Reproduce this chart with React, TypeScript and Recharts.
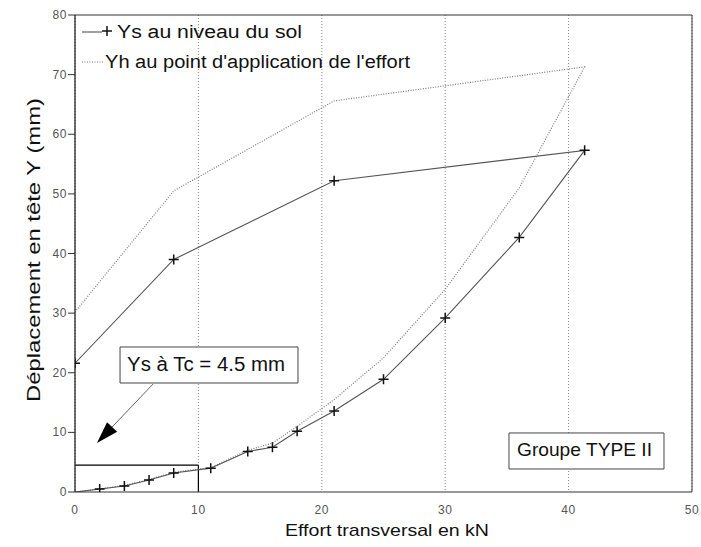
import React from 'react';
import {
  LineChart,
  Line,
  XAxis,
  YAxis,
  CartesianGrid,
  ReferenceLine,
  ReferenceArea,
  Legend,
} from 'recharts';

// Effort transversal (kN) / déplacement (mm) — chargement puis déchargement
const effortYs = [0, 2, 4, 6, 8, 11, 14, 16, 18, 21, 25, 30, 36, 41.3, 21, 8, 0];
const deplYs = [0, 0.5, 1, 2, 3.2, 4, 6.8, 7.5, 10.2, 13.6, 18.9, 29.2, 42.7, 57.3, 52.2, 39, 21.6];

const effortYh = [0, 2, 4, 6, 8, 11, 14, 16, 18, 21, 25, 30, 36, 41.3, 21, 8, 0];
const deplYh = [0, 0.5, 1.1, 2.1, 3.3, 4.1, 7, 8.2, 11, 15.5, 22.5, 34, 51, 71.3, 65.6, 50.5, 30.2];

const xTicks = [0, 10, 20, 30, 40, 50];
const yTicks = [0, 10, 20, 30, 40, 50, 60, 70, 80];

const seriesNames = ['Ys au niveau du sol', "Yh au point d'application de l'effort"];

// Point de Tc : effort et déplacement Ys correspondant
const tcEffort = 10;
const tcDepl = 4.5;
const tcText = 'Ys à Tc = 4.5 mm';
const groupText = 'Groupe TYPE II';

// Emplacement des cartouches, en unités du graphique
const tcBox = { x1: 3.65, x2: 18.07, y1: 18.28, y2: 24.32 };
const tcArrow = { from: { x: 6.32, y: 18.1 }, to: { x: 1.78, y: 8.22 } };
const groupBox = { x1: 35.17, x2: 47.73, y1: 3.86, y2: 9.9 };

const FONT = '"Liberation Sans", Arial, Helvetica, sans-serif';

const ysData = effortYs.map((x, i) => ({ x, y: deplYs[i] }));
const yhData = effortYh.map((x, i) => ({ x, y: deplYh[i] }));

const Plus = ({ cx, cy }: { cx: number; cy: number }) => (
  <path
    d={`M${cx - 5},${cy}H${cx + 5}M${cx},${cy - 5}V${cy + 5}`}
    stroke="#111"
    strokeWidth={1.5}
    fill="none"
  />
);

const PlusDot = (props: any) => {
  const { cx, cy, index } = props;
  if (index === 0 || cx == null || cy == null) return <g key={`p${index}`} />;
  return (
    <g key={`p${index}`}>
      <Plus cx={cx} cy={cy} />
    </g>
  );
};

const YTick = (props: any) => {
  const { x, y, payload } = props;
  return (
    <text x={x + 1} y={y + 4} textAnchor="end" fontSize={12} fill="#555" fontFamily={FONT} letterSpacing={0.6}>
      {payload.value}
    </text>
  );
};

const XTick = (props: any) => {
  const { x, y, payload } = props;
  return (
    <text x={x} y={y + 22} textAnchor="middle" fontSize={12} fill="#555" fontFamily={FONT} letterSpacing={0.6}>
      {payload.value}
    </text>
  );
};

const LegendBox = () => (
  <svg width={701} height={80} style={{ display: 'block', overflow: 'visible' }}>
    <line x1={82} y1={32} x2={102} y2={32} stroke="#555" strokeWidth={1.1} />
    <Plus cx={107} cy={31} />
    <text x={117} y={38} fontSize={18} fill="#111" fontFamily={FONT} textLength={185} lengthAdjust="spacingAndGlyphs">
      {seriesNames[0]}
    </text>
    <line x1={82} y1={62} x2={104} y2={62} stroke="#777" strokeWidth={1.2} strokeDasharray="1 1.5" />
    <text x={105} y={68} fontSize={18} fill="#111" fontFamily={FONT} textLength={305} lengthAdjust="spacingAndGlyphs">
      {seriesNames[1]}
    </text>
  </svg>
);

const boxLabel = (text: string, fontSize: number, padX: number, length: number, base: number) => (props: any) => {
  const vb = props.viewBox || {};
  return (
    <text
      x={vb.x + padX}
      y={vb.y + base}
      fontSize={fontSize}
      fill="#111"
      fontFamily={FONT}
      textLength={length}
      lengthAdjust="spacingAndGlyphs"
    >
      {text}
    </text>
  );
};

const ArrowShape = (props: any) => {
  const { x1, y1, x2, y2 } = props;
  if ([x1, y1, x2, y2].some((v) => v == null || Number.isNaN(v))) return <g />;
  const dx = x2 - x1;
  const dy = y2 - y1;
  const len = Math.sqrt(dx * dx + dy * dy);
  const ux = dx / len;
  const uy = dy / len;
  const headLen = 22;
  const half = 7;
  const bx = x2 - ux * headLen;
  const by = y2 - uy * headLen;
  const px = -uy;
  const py = ux;
  return (
    <g>
      <line x1={x1} y1={y1} x2={bx} y2={by} stroke="#666" strokeWidth={1} />
      <polygon
        points={`${x2},${y2} ${bx + px * half},${by + py * half} ${bx - px * half},${by - py * half}`}
        fill="#000"
      />
    </g>
  );
};

export default function App() {
  return (
    <div style={{ position: 'absolute', left: 0, top: 0, width: 701, height: 547, background: '#fff' }}>
      <LineChart width={701} height={547} margin={{ top: 15, right: 9, bottom: 0, left: 0 }}>
        <CartesianGrid horizontal={false} vertical stroke="#8a8a8a" strokeDasharray="1 2" />
        <XAxis
          dataKey="x"
          type="number"
          domain={[0, 50]}
          ticks={xTicks}
          height={55}
          tickSize={0}
          tickMargin={0}
          tickLine={false}
          axisLine={{ stroke: '#333', strokeWidth: 1.2 }}
          tick={<XTick />}
          allowDataOverflow
          label={(p: any) => (
            <text
              x={387}
              y={536}
              textAnchor="middle"
              fontSize={17}
              fill="#111"
              fontFamily={FONT}
              textLength={204}
              lengthAdjust="spacingAndGlyphs"
            >
              Effort transversal en kN
            </text>
          )}
        />
        <YAxis
          dataKey="y"
          type="number"
          domain={[0, 80]}
          ticks={yTicks}
          width={75}
          tickSize={7}
          tickMargin={2}
          tickLine={{ stroke: '#333' }}
          axisLine={{ stroke: '#222', strokeWidth: 1.3 }}
          tick={<YTick />}
          allowDataOverflow
          label={(p: any) => (
            <text
              transform="translate(40,250) rotate(-90)"
              textAnchor="middle"
              fontSize={19}
              fill="#111"
              fontFamily={FONT}
              textLength={304}
              lengthAdjust="spacingAndGlyphs"
            >
              Déplacement en tête Y (mm)
            </text>
          )}
        />
        <ReferenceLine y={80} stroke="#333" strokeWidth={1.2} />
        <ReferenceLine x={50} stroke="#555" strokeWidth={1.2} />

        <ReferenceLine
          segment={[
            { x: 0, y: tcDepl },
            { x: tcEffort, y: tcDepl },
          ]}
          stroke="#000"
          strokeWidth={1.2}
        />
        <ReferenceLine
          segment={[
            { x: tcEffort, y: tcDepl },
            { x: tcEffort, y: 0 },
          ]}
          stroke="#000"
          strokeWidth={1.2}
        />

        <Line
          data={yhData}
          dataKey="y"
          name={seriesNames[1]}
          type="linear"
          stroke="#7a7a7a"
          strokeWidth={1.2}
          strokeDasharray="1 1.5"
          dot={false}
          activeDot={false}
          isAnimationActive={false}
        />
        <Line
          data={ysData}
          dataKey="y"
          name={seriesNames[0]}
          type="linear"
          stroke="#555"
          strokeWidth={1.1}
          dot={<PlusDot />}
          activeDot={false}
          isAnimationActive={false}
        />

        <ReferenceLine
          segment={[tcArrow.from, tcArrow.to]}
          stroke="#666"
          shape={(p: any) => <ArrowShape {...p} />}
        />
        <ReferenceArea
          x1={tcBox.x1}
          x2={tcBox.x2}
          y1={tcBox.y1}
          y2={tcBox.y2}
          fill="#fff"
          fillOpacity={1}
          stroke="#444"
          strokeWidth={1}
          label={boxLabel(tcText, 20, 7, 158, 24)}
        />
        <ReferenceArea
          x1={groupBox.x1}
          x2={groupBox.x2}
          y1={groupBox.y1}
          y2={groupBox.y2}
          fill="#fff"
          fillOpacity={1}
          stroke="#444"
          strokeWidth={1}
          label={boxLabel(groupText, 19, 8, 135, 23)}
        />

        <Legend
          layout="vertical"
          align="center"
          verticalAlign="middle"
          wrapperStyle={{ left: 0, top: 0, width: 701, height: 80 }}
          content={() => <LegendBox />}
        />
      </LineChart>
    </div>
  );
}
